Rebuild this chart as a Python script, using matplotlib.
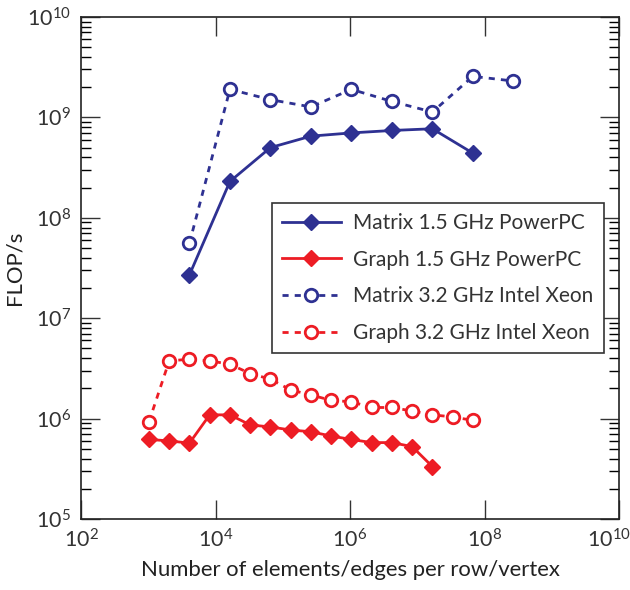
import matplotlib
matplotlib.use("Agg")
import matplotlib.pyplot as plt
import matplotlib.transforms as mtransforms
import numpy as np
from matplotlib.ticker import LogLocator, NullFormatter, FixedLocator

plt.rcParams['font.family'] = ['Lato', 'DejaVu Sans']
plt.rcParams['mathtext.fontset'] = 'custom'
plt.rcParams['mathtext.rm'] = 'Lato'

# x: number of elements/edges (powers of two)
matrix_ppc_x = [2**12, 2**14, 2**16, 2**18, 2**20, 2**22, 2**24, 2**26]
matrix_ppc_y = [2.7e7, 2.3e8, 5.0e8, 6.5e8, 7.0e8, 7.4e8, 7.7e8, 4.4e8]

matrix_xeon_x = [2**12, 2**14, 2**16, 2**18, 2**20, 2**22, 2**24, 2**26, 2**28]
matrix_xeon_y = [5.6e7, 1.9e9, 1.5e9, 1.27e9, 1.9e9, 1.44e9, 1.13e9, 2.56e9, 2.3e9]

graph_ppc_x = [2**k for k in range(10, 25)]
graph_ppc_y = [6.2e5, 6.0e5, 5.7e5, 1.09e6, 1.09e6, 8.65e5, 8.26e5, 7.7e5,
               7.4e5, 6.7e5, 6.2e5, 5.77e5, 5.77e5, 5.26e5, 3.33e5]

graph_xeon_x = [2**k for k in range(10, 27)]
graph_xeon_y = [9.3e5, 3.76e6, 3.9e6, 3.76e6, 3.48e6, 2.81e6, 2.47e6, 1.93e6,
                1.72e6, 1.52e6, 1.47e6, 1.29e6, 1.29e6, 1.19e6, 1.09e6, 1.04e6, 9.6e5]

labels = ["Matrix 1.5 GHz PowerPC", "Graph 1.5 GHz PowerPC",
          "Matrix 3.2 GHz Intel Xeon", "Graph 3.2 GHz Intel Xeon"]

blue = '#2E3192'
red = '#ED1C24'

fig = plt.figure(figsize=(6.3, 5.9), dpi=100)
ax = fig.add_axes([0.1286, 0.1203, 0.854, 0.851])

ax.plot(matrix_ppc_x, matrix_ppc_y, '-', color=blue, lw=2, marker='D',
        ms=8, mfc=blue, mec=blue, label=labels[0])
ax.plot(graph_ppc_x, graph_ppc_y, '-', color=red, lw=2, marker='D',
        ms=8, mfc=red, mec=red, label=labels[1])
ax.plot(matrix_xeon_x, matrix_xeon_y, linestyle=(0, (2.2, 2.2)), color=blue, lw=2,
        marker='o', ms=9, mfc='white', mec=blue, mew=2, label=labels[2])
ax.plot(graph_xeon_x, graph_xeon_y, linestyle=(0, (2.2, 2.2)), color=red, lw=2,
        marker='o', ms=9, mfc='white', mec=red, mew=2, label=labels[3])

ax.set_xscale('log')
ax.set_yscale('log')
ax.set_xlim(1e2, 1e10)
ax.set_ylim(1e5, 1e10)

ax.xaxis.set_major_locator(FixedLocator([1e2, 1e4, 1e6, 1e8, 1e10]))
ax.xaxis.set_minor_locator(FixedLocator([]))
ax.yaxis.set_major_locator(LogLocator(base=10, numticks=10))
ax.yaxis.set_minor_locator(LogLocator(base=10, subs=np.arange(2, 10), numticks=20))
ax.yaxis.set_minor_formatter(NullFormatter())

ax.tick_params(which='major', direction='in', length=14, width=1, top=True, right=True,
               labelsize=15.5, pad=7, colors='#333333')
ax.tick_params(which='minor', direction='in', length=7, width=1, top=True, right=True)
for s in ax.spines.values():
    s.set_linewidth(1.2)
    s.set_color('#222222')

ax.set_xlabel('Number of elements/edges per row/vertex', fontsize=15.9, color='#222222', labelpad=6)
ax.set_ylabel('FLOP/s', fontsize=15.9, color='#222222', labelpad=2)

leg = ax.legend(loc='upper right', bbox_to_anchor=(0.991, 0.651), fontsize=15.0,
                frameon=True, fancybox=False, edgecolor='#333333', framealpha=1,
                handlelength=2.8, borderpad=0.5, labelspacing=0.8, handletextpad=0.6)
leg.get_frame().set_linewidth(1.2)
for t in leg.get_texts():
    t.set_color('#333333')

fig.canvas.draw()
last = ax.xaxis.get_major_ticks()[-1].label1
last.set_transform(last.get_transform() +
                   mtransforms.ScaledTranslation(-10 / 100, 0, fig.dpi_scale_trans))

fig.savefig('out.png', dpi=100)
